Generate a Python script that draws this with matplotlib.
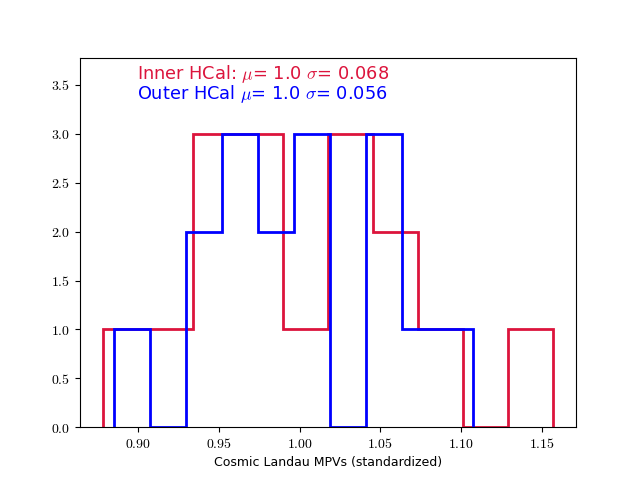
import matplotlib
matplotlib.use('Agg')
import matplotlib.pyplot as plt
from matplotlib.ticker import FuncFormatter
import numpy as np

# histogram contents
inner_edges = np.linspace(0.878, 1.1572, 11)
inner_counts = [1, 1, 3, 3, 1, 3, 2, 1, 0, 1]
outer_edges = np.linspace(0.8853, 1.1076, 11)
outer_counts = [1, 0, 2, 3, 2, 3, 0, 3, 1, 1]

inner_label = r"Inner HCal: $\mu$= 1.0 $\sigma$= 0.068"
outer_label = r"Outer HCal $\mu$= 1.0 $\sigma$= 0.056"
xlabel = "Cosmic Landau MPVs (standardized)"


def main():
    plt.rcParams['mathtext.fontset'] = 'cm'
    plt.rcParams['font.family'] = ['DejaVu Sans']

    f, ax = plt.subplots()
    f.set_size_inches(6.4, 4.8)

    ax.hist(inner_edges[:-1], bins=inner_edges, weights=inner_counts,
            histtype='step', color='crimson', linewidth=2)
    ax.hist(outer_edges[:-1], bins=outer_edges, weights=outer_counts,
            histtype='step', color='blue', linewidth=2)

    ax.set_ylim(0, 3.78)
    ax.set_yticks(np.arange(0, 3.51, 0.5))
    ax.xaxis.set_major_formatter(FuncFormatter(lambda v, p: r"$%.2f$" % v))
    ax.yaxis.set_major_formatter(FuncFormatter(lambda v, p: r"$%.1f$" % v))
    ax.tick_params(labelsize=10)

    ax.text(0.8996, 3.56, inner_label, color='crimson', fontsize=12.8, va='baseline')
    ax.text(0.8996, 3.356, outer_label, color='blue', fontsize=12.8, va='baseline')

    ax.set_xlabel(xlabel, fontsize=9)

    plt.savefig('out.png', format='png', dpi=100)
    plt.close()


main()
